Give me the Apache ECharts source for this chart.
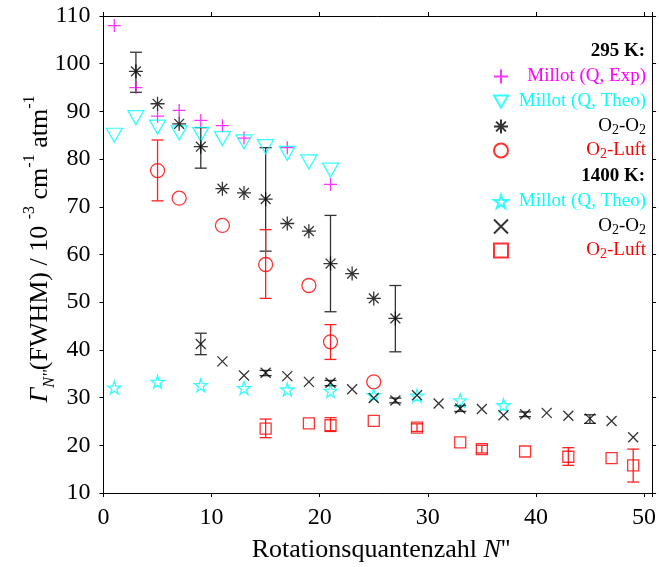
<!DOCTYPE html>
<html>
<head>
<meta charset="utf-8">
<script src="https://cdn.jsdelivr.net/npm/echarts@6/dist/echarts.min.js"></script>
<style>html,body{margin:0;padding:0;background:#fff;}#c{width:659px;height:567px;}</style>
</head>
<body>
<div id="c"></div>
<script>
// ---------- data ----------
const xTickValues = [0, 10, 20, 30, 40, 50];
const yTickValues = [10, 20, 30, 40, 50, 60, 70, 80, 90, 100, 110];

// 295 K
const millotExpN   = [1, 3, 5, 7, 9, 11, 13, 17, 21];
const millotExpVal = [108, 95, 89, 90.2, 88.1, 87, 84.4, 82.4, 74.7];

const millotTheo295N   = [1, 3, 5, 7, 9, 11, 13, 15, 17, 19, 21];
const millotTheo295Val = [85, 88.7, 86.7, 85.5, 85.2, 84.3, 83.6, 82.6, 81.2, 79.4, 77.7];

const o2o2_295N   = [3, 5, 7, 9, 11, 13, 15, 17, 19, 21, 23, 25, 27];
const o2o2_295Val = [98.4, 91.6, 87.4, 82.6, 73.8, 72.9, 71.6, 66.5, 64.9, 58.1, 56, 50.8, 46.6];
const o2o2_295ErrN  = [3, 9, 15, 21, 27];
const o2o2_295ErrLo = [94, 78.1, 60.7, 48, 39.6];
const o2o2_295ErrHi = [102.4, 86.6, 82.4, 68.2, 53.5];

const luft295N   = [5, 7, 11, 15, 19, 21, 25];
const luft295Val = [77.6, 71.8, 66.1, 57.9, 53.5, 41.7, 33.3];
const luft295ErrN  = [5, 15, 21];
const luft295ErrLo = [71.25, 50.8, 38];
const luft295ErrHi = [84, 65.2, 45.3];

// 1400 K
const millotTheo1400N   = [1, 5, 9, 13, 17, 21, 25, 29, 33, 37];
const millotTheo1400Val = [32.1, 33.3, 32.6, 32, 31.7, 31.4, 30.5, 30.4, 29.4, 28.4];

const o2o2_1400N   = [9, 11, 13, 15, 17, 19, 21, 23, 25, 27, 29, 31, 33, 35, 37, 39, 41, 43, 45, 47, 49];
const o2o2_1400Val = [41.25, 37.6, 34.65, 35.2, 34.5, 33.3, 33.1, 31.75, 29.9, 29.4, 30.5, 28.75, 27.7, 27.6, 26.3, 26.5, 26.8, 26.2, 25.6, 25.1, 21.7];
const o2o2_1400ErrN  = [9, 15, 21, 27, 33, 39, 45];
const o2o2_1400ErrLo = [39, 34.6, 32.5, 28.9, 27.1, 26, 24.6];
const o2o2_1400ErrHi = [43.5, 35.7, 33.6, 29.9, 28.3, 27, 26.4];

const luft1400N   = [15, 19, 21, 25, 29, 33, 35, 39, 43, 47, 49];
const luft1400Val = [23.5, 24.6, 24.2, 25.1, 23.7, 20.6, 19.2, 18.7, 17.6, 17.3, 15.8];
const luft1400ErrN  = [15, 21, 29, 35, 43, 49];
const luft1400ErrLo = [21.6, 22.9, 22.9, 18.4, 15.8, 12.3];
const luft1400ErrHi = [25.5, 25.8, 24.5, 20.0, 19.5, 19.2];

// legend entries (internal names) in display order
const legendNames = ['h295', 'millotExp', 'theo295', 'o2o2_295', 'luft295', 'h1400', 'theo1400', 'o2o2_1400', 'luft1400'];

// ---------- styling ----------
const FONT = 'Liberation Serif';
const MAG = '#ff00ff', CYA = '#00ffff', BLK = '#000000', RED = '#ff0000';
const ERR_BLK = '#333333', ERR_RED = '#ff2020';

const SYM_PLUS  = 'path://M5,0L5,10M0,5L10,5';
const SYM_AST   = 'path://M10,0L10,20M0,10L20,10M3,3L17,17M3,17L17,3';
const SYM_CROSS = 'path://M0,0L10,10M0,10L10,0';
const SYM_STAR  = 'path://M50,0L61,35L98,35L68,57L79,91L50,70L21,91L32,57L2,35L39,35Z';
const SYM_TRI_DOWN = 'path://M0,0L16,0L8,14Z';

function pairs(xs, ys) { return xs.map((x, i) => [x, ys[i]]); }
function triples(xs, lo, hi) { return xs.map((x, i) => [x, lo[i], hi[i]]); }

function scatter(name, xs, ys, symbol, size, color) {
  return {
    name, type: 'scatter', data: pairs(xs, ys), symbol, symbolSize: size, z: 3,
    itemStyle: { color: 'rgba(0,0,0,0)', borderColor: color, borderWidth: 1.3 },
    emphasis: { disabled: true }
  };
}
function errBars(xs, lo, hi, color) {
  return {
    type: 'custom', z: 2, silent: true,
    data: triples(xs, lo, hi),
    encode: { x: 0, y: [1, 2] },
    renderItem: function (params, api) {
      const x = api.value(0);
      const a = api.coord([x, api.value(1)]);
      const b = api.coord([x, api.value(2)]);
      const w = 6;
      const st = { stroke: color, lineWidth: 1.3 };
      return {
        type: 'group', children: [
          { type: 'line', shape: { x1: a[0], y1: a[1], x2: b[0], y2: b[1] }, style: st },
          { type: 'line', shape: { x1: a[0] - w, y1: a[1], x2: a[0] + w, y2: a[1] }, style: st },
          { type: 'line', shape: { x1: b[0] - w, y1: b[1], x2: b[0] + w, y2: b[1] }, style: st }
        ]
      };
    }
  };
}

const legendLabels = {
  h295: '{h|295 K:}',
  millotExp: '{m|Millot (Q, Exp)}',
  theo295: '{c|Millot (Q, Theo)}',
  o2o2_295: '{k|O}{ks|2}{k|-O}{ks|2}',
  luft295: '{r|O}{rs|2}{r|-Luft}',
  h1400: '{h|1400 K:}',
  theo1400: '{c|Millot (Q, Theo)}',
  o2o2_1400: '{k|O}{ks|2}{k|-O}{ks|2}',
  luft1400: '{r|O}{rs|2}{r|-Luft}'
};
const legendIcons = { h295: 'none', h1400: 'none', theo295: SYM_TRI_DOWN };
const legendRowY = [53, 78, 103, 128, 152, 178, 203, 228, 252];

function rs(color, size, va, extra) {
  return Object.assign({ color, fontSize: size, fontFamily: FONT, align: 'right', lineHeight: 22, verticalAlign: va }, extra || {});
}
const legendRich = {
  h: rs(BLK, 19, 'middle', { fontWeight: 'bold' }),
  m: rs(MAG, 19, 'middle'),
  c: rs(CYA, 19, 'middle'),
  k: rs(BLK, 19, 'middle'),
  ks: rs(BLK, 14, 'bottom'),
  r: rs(RED, 19, 'middle'),
  rs: rs(RED, 14, 'bottom')
};

const legends = legendNames.map((name, i) => ({
  orient: 'vertical', left: 493, top: legendRowY[i] - 11, padding: 0,
  itemWidth: 14, itemHeight: 14, itemGap: 0, selectedMode: false,
  data: [legendIcons[name] ? { name, icon: legendIcons[name] } : name],
  formatter: n => legendLabels[n],
  textStyle: { width: 133, height: 22, align: 'right', fontFamily: FONT, fontSize: 19, rich: legendRich }
}));

const chart = echarts.init(document.getElementById('c'), null, { renderer: 'canvas' });
const axisCommon = {
  type: 'value', splitLine: { show: false },
  axisLine: { show: true, onZero: false, lineStyle: { color: BLK, width: 1 } },
  axisTick: { show: true, inside: false, length: 4, lineStyle: { color: BLK } }
};
const option = {
  animation: false,
  backgroundColor: '#fff',
  grid: { left: 103.5, right: 5, top: 16, bottom: 74 },
  xAxis: [
    Object.assign({}, axisCommon, {
      min: 0, max: 50.75, interval: 10, position: 'bottom',
      axisLabel: { fontFamily: FONT, fontSize: 24, color: BLK, margin: 13,
        formatter: v => (xTickValues.indexOf(v) >= 0 ? String(v) : '') }
    }),
    Object.assign({}, axisCommon, {
      min: 0, max: 50.75, interval: 10, position: 'top', axisLabel: { show: false }
    })
  ],
  yAxis: [
    Object.assign({}, axisCommon, {
      min: 10, max: 110, interval: 10, position: 'left',
      axisLabel: { fontFamily: FONT, fontSize: 24, color: BLK, margin: 13,
        formatter: v => (yTickValues.indexOf(v) >= 0 ? String(v) : '') }
    }),
    Object.assign({}, axisCommon, {
      min: 10, max: 110, interval: 10, position: 'right', axisLabel: { show: false }
    })
  ],
  legend: legends,
  graphic: [
    {
      type: 'text', x: 381, y: 550,
      style: {
        text: '{t|Rotationsquantenzahl }{i|N}{t|\'\'}',
        align: 'center', verticalAlign: 'middle',
        rich: {
          t: { fontFamily: FONT, fontSize: 26, fill: BLK },
          i: { fontFamily: FONT, fontSize: 26, fontStyle: 'italic', fill: BLK }
        }
      }
    },
    {
      type: 'text', x: 40, y: 249, rotation: Math.PI / 2,
      style: {
        text: '{g|Γ}{s|N\'\'}{t|(FWHM) / 10 }{p|-3}{t| cm}{p|-1}{t| atm}{p|-1}',
        align: 'center', verticalAlign: 'middle',
        rich: {
          g: { fontFamily: FONT, fontSize: 26, fontStyle: 'italic', fill: BLK, lineHeight: 36, verticalAlign: 'middle' },
          s: { fontFamily: FONT, fontSize: 16, fontStyle: 'italic', fill: BLK, lineHeight: 36, verticalAlign: 'bottom' },
          t: { fontFamily: FONT, fontSize: 26, fill: BLK, lineHeight: 36, verticalAlign: 'middle' },
          p: { fontFamily: FONT, fontSize: 16, fill: BLK, lineHeight: 36, verticalAlign: 'top' }
        }
      }
    }
  ],
  series: [
    { name: 'h295', type: 'scatter', data: [] },
    { name: 'h1400', type: 'scatter', data: [] },
    errBars(o2o2_295ErrN, o2o2_295ErrLo, o2o2_295ErrHi, ERR_BLK),
    errBars(luft295ErrN, luft295ErrLo, luft295ErrHi, ERR_RED),
    errBars(o2o2_1400ErrN, o2o2_1400ErrLo, o2o2_1400ErrHi, ERR_BLK),
    errBars(luft1400ErrN, luft1400ErrLo, luft1400ErrHi, ERR_RED),
    scatter('millotExp', millotExpN, millotExpVal, SYM_PLUS, 13, MAG),
    scatter('theo295', millotTheo295N, millotTheo295Val, SYM_TRI_DOWN, [16, 14], CYA),
    scatter('o2o2_295', o2o2_295N, o2o2_295Val, SYM_AST, 14, BLK),
    scatter('luft295', luft295N, luft295Val, 'circle', 14, RED),
    scatter('theo1400', millotTheo1400N, millotTheo1400Val, SYM_STAR, 13, CYA),
    scatter('o2o2_1400', o2o2_1400N, o2o2_1400Val, SYM_CROSS, 10, BLK),
    scatter('luft1400', luft1400N, luft1400Val, 'rect', 11, RED)
  ]
};
chart.setOption(option);
</script>
</body>
</html>
